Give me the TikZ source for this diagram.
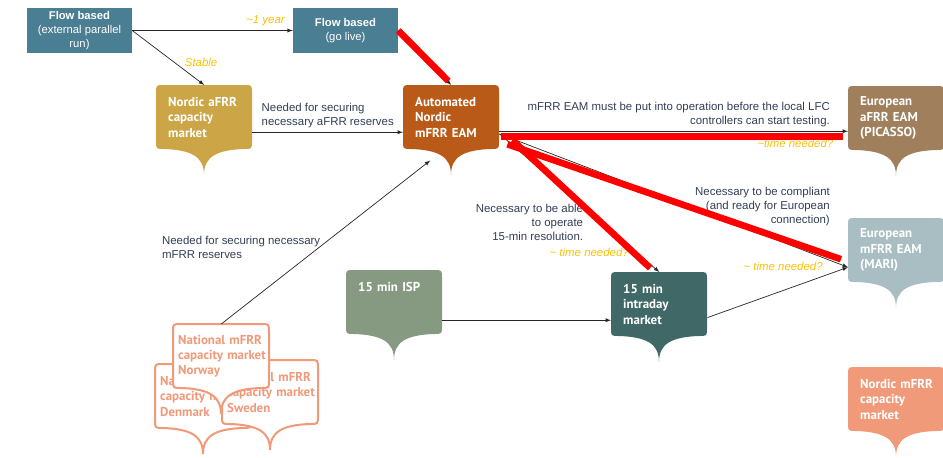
\documentclass[tikz,border=0pt]{standalone}
\usepackage{fontspec}
\setmainfont{Liberation Sans}
\newfontfamily\boxfont{PT Sans}
\usepackage{tikz}
\usetikzlibrary{positioning,arrows,calc}

\definecolor{fbblue}{HTML}{4A7E92}
\definecolor{afrrgold}{HTML}{CCA646}
\definecolor{eamrust}{HTML}{BA5A19}
\definecolor{picassotan}{HTML}{A0805C}
\definecolor{marigrey}{HTML}{A8BEC3}
\definecolor{capsalmon}{HTML}{F19A7A}
\definecolor{ispgreen}{HTML}{869981}
\definecolor{idteal}{HTML}{406866}
\definecolor{textnavy}{HTML}{323E55}
\definecolor{guessgold}{HTML}{FFC000}

% body 96 x 64, point hangs 26 below
\newcommand{\tagshape}[2]{%
  \path[#2, shift={(#1)}] (0,8) -- (0,56) .. controls (0,64) .. (8,64)
    .. controls (36,65) and (48,72) .. (48,90)
    .. controls (48,72) and (60,65) .. (88,64)
    .. controls (96,64) .. (96,56) -- (96,8)
    .. controls (96,0) .. (88,0) -- (8,0)
    .. controls (0,0) .. (0,8) -- cycle;}

\tikzset{
  tag/.style={anchor=north west, minimum width=28.8mm, minimum height=19.2mm,
    text width=21.6mm, align=left, inner sep=0pt, text=white,
    font=\boxfont\bfseries\fontsize{11}{13.2}\selectfont},
  natl/.style={tag, text=capsalmon, text width=25.8mm},
  flow/.style={fill=fbblue, text=white, minimum width=31.5mm, minimum height=13.5mm,
    inner sep=0pt, align=center, font=\fontsize{9.6}{12.3}\selectfont},
  link/.style={-latex, line width=0.6pt, black!85},
  hot/.style={red, line width=2mm},
  remark/.style={text=textnavy, font=\fontsize{9.75}{12}\selectfont},
  estimate/.style={text=guessgold, font=\itshape\fontsize{9.75}{12}\selectfont}
}

\begin{document}
\begin{tikzpicture}[x=0.3mm, y=-0.3mm]
  \useasboundingbox (0,0) rectangle (943,457);

  \node[flow] (fbrun) at (79.5,30.5) {\textbf{Flow based}\\(external parallel\\run)};
  \node[flow] (fblive) at (345.5,30.5) {\textbf{Flow based}\\(go live)};

  \tagshape{156,85}{fill=afrrgold}
  \node[tag] (afrr) at (156,85) {Nordic~aFRR\\capacity\\market};
  \tagshape{403,85}{fill=eamrust}
  \node[tag] (auto) at (403,85) {Automated\\Nordic\\mFRR~EAM};
  \tagshape{848,86}{fill=picassotan}
  \node[tag] (picasso) at (848,86) {European\\aFRR~EAM\\(PICASSO)};
  \tagshape{848,218}{fill=marigrey}
  \node[tag] (mari) at (848,218) {European\\mFRR~EAM\\(MARI)};
  \tagshape{848,367}{fill=capsalmon}
  \node[tag] (nmfrr) at (848,367) {\mbox{Nordic mFRR}\\capacity\\market};
  \tagshape{346,270}{fill=ispgreen}
  \node[tag] (isp) at (346,270) {\mbox{15 min ISP}\\\mbox{}\\\mbox{}};
  \tagshape{611,272}{fill=idteal}
  \node[tag] (intraday) at (611,272) {15~min\\intraday\\market};

  \tagshape{155,364}{draw=capsalmon, line width=0.6mm, fill=white}
  \node[natl] (denmark) at (155,364) {\mbox{National mFRR}\\\mbox{capacity market}\\Denmark};
  \tagshape{222,360}{draw=capsalmon, line width=0.6mm, fill=white}
  \node[natl] (sweden) at (222,360) {\mbox{National mFRR}\\\mbox{capacity market}\\Sweden};
  \tagshape{173,324}{draw=capsalmon, line width=0.6mm, fill=white}
  \node[natl] (norway) at (173,324) {\mbox{National mFRR}\\\mbox{capacity market}\\Norway};

  \draw[link] (fbrun.east) -- node[estimate, above, pos=0.83] {\textasciitilde 1 year} (fblive.west);
  \draw[link] (fbrun.east) -- node[estimate, right, pos=0.58, xshift=2mm] {Stable} (afrr.north);
  \draw[link] ([yshift=-4.5mm]afrr.east) -- node[remark, above, align=left] {Needed for securing\\necessary aFRR reserves} ([yshift=-4.5mm]afrr.east -| auto.west);
  \draw[link] (norway.north) -- node[remark, left, align=left, pos=0.47, xshift=1.5mm] {Needed for securing necessary\\mFRR reserves} ($(auto.south)+(-21,11)$);
  \draw[link] (fblive.east) -- (auto.north);
  \draw[link] ([yshift=-4.2mm]auto.east) -- node[remark, align=right, anchor=south east, pos=0.96] {mFRR EAM must be put into operation before the local LFC\\controllers can start testing.}
    node[estimate, below left, pos=0.97, yshift=-1mm] {\textasciitilde time needed?} ([yshift=-4.2mm]auto.east -| picasso.west);
  \draw[link] ([yshift=-5mm]auto.east) -- node[remark, align=right, anchor=north east, pos=0.55, yshift=3mm] {Necessary to be able\\to operate\\15-min resolution.}
    node[estimate, left, pos=0.94, xshift=-5mm, yshift=3.3mm] {\textasciitilde{} time needed?} (intraday.north);
  \draw[link] ([yshift=-5mm]auto.east) -- node[remark, align=right, anchor=south east, pos=0.96, yshift=9.5mm] {Necessary to be compliant\\(and ready for European\\connection)} ($(mari.west)+(0,17)$);
  \draw[link] ([yshift=-5.4mm]isp.east) -- ([yshift=-5.4mm]isp.east -| intraday.west);
  \draw[link] ([yshift=-4mm]intraday.east) -- node[estimate, above left, pos=0.85] {\textasciitilde{} time needed?} ($(mari.west)+(0,17)$);

  \draw[hot] (fblive.east) -- ($(auto.north)+(-3,-4)$);
  \draw[hot] ($(auto.east)+(2,19)$) -- ($(auto.east -| picasso.west)+(-5,19)$);
  \draw[hot] ($(auto.east)+(13,23)$) -- ($(intraday.north)+(-9,-4)$);
  \draw[hot] ($(auto.east)+(8,27)$) -- ($(mari.west)+(-7,9)$);
\end{tikzpicture}
\end{document}
